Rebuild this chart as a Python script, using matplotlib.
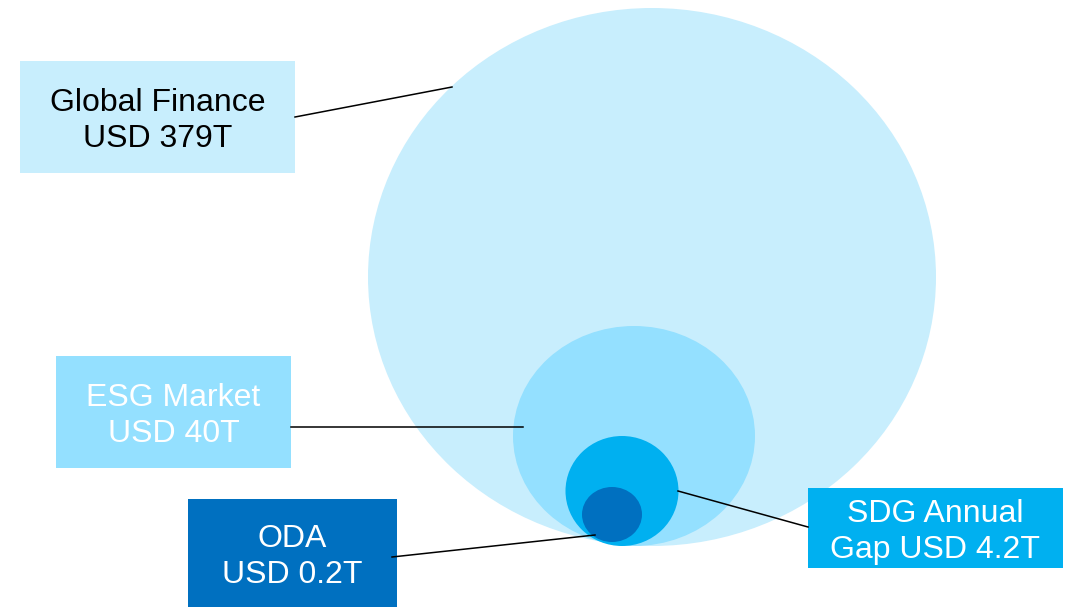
import matplotlib.pyplot as plt
from matplotlib.patches import Ellipse, Rectangle

# data
names = ['Global Finance', 'ESG Market', 'SDG Annual\nGap', 'ODA']
values = [379, 40, 4.2, 0.2]
units = 'T'

# layout (pixel coords, y down)
colors = ['#C8EEFD', '#94E0FF', '#00B0F0', '#0070C0']
text_colors = ['black', 'white', 'white', 'white']
circles = [(652, 277, 568, 538), (634, 436, 242, 220), (622, 491, 113, 110), (612, 514.5, 60, 55)]
boxes = [(20, 61, 275, 112), (56, 356, 235, 112), (808, 488, 255, 80), (188, 499, 209, 108)]
leaders = [((295, 117), (452, 87)), ((291, 427), (523, 427)),
           ((808, 527), (678, 491)), ((392, 557), (595, 535))]

plt.rcParams['font.family'] = ['Liberation Sans', 'DejaVu Sans']

fig = plt.figure(figsize=(10.73, 6.08), dpi=100)
ax = fig.add_axes([0, 0, 1, 1])
ax.set_xlim(0, 1073)
ax.set_ylim(608, 0)
ax.axis('off')

for (cx, cy, w, h), c in zip(circles, colors):
    ax.add_patch(Ellipse((cx, cy), w, h, facecolor=c, edgecolor='none', zorder=1))

for (p0, p1) in leaders:
    ax.plot([p0[0], p1[0]], [p0[1], p1[1]], color='black', lw=1.1, zorder=3)

for name, v, (bx, by, bw, bh), c, tc in zip(names, values, boxes, colors, text_colors):
    ax.add_patch(Rectangle((bx, by), bw, bh, facecolor=c, edgecolor='none', zorder=2))
    if '\n' in name:
        label = name + ' USD %g%s' % (v, units)
    else:
        label = name + '\nUSD %g%s' % (v, units)
    ax.text(bx + bw / 2, by + bh / 2 + 4, label, ha='center', va='center',
            fontsize=23, color=tc, linespacing=1.24, zorder=4)

fig.savefig('out.png', dpi=100)
